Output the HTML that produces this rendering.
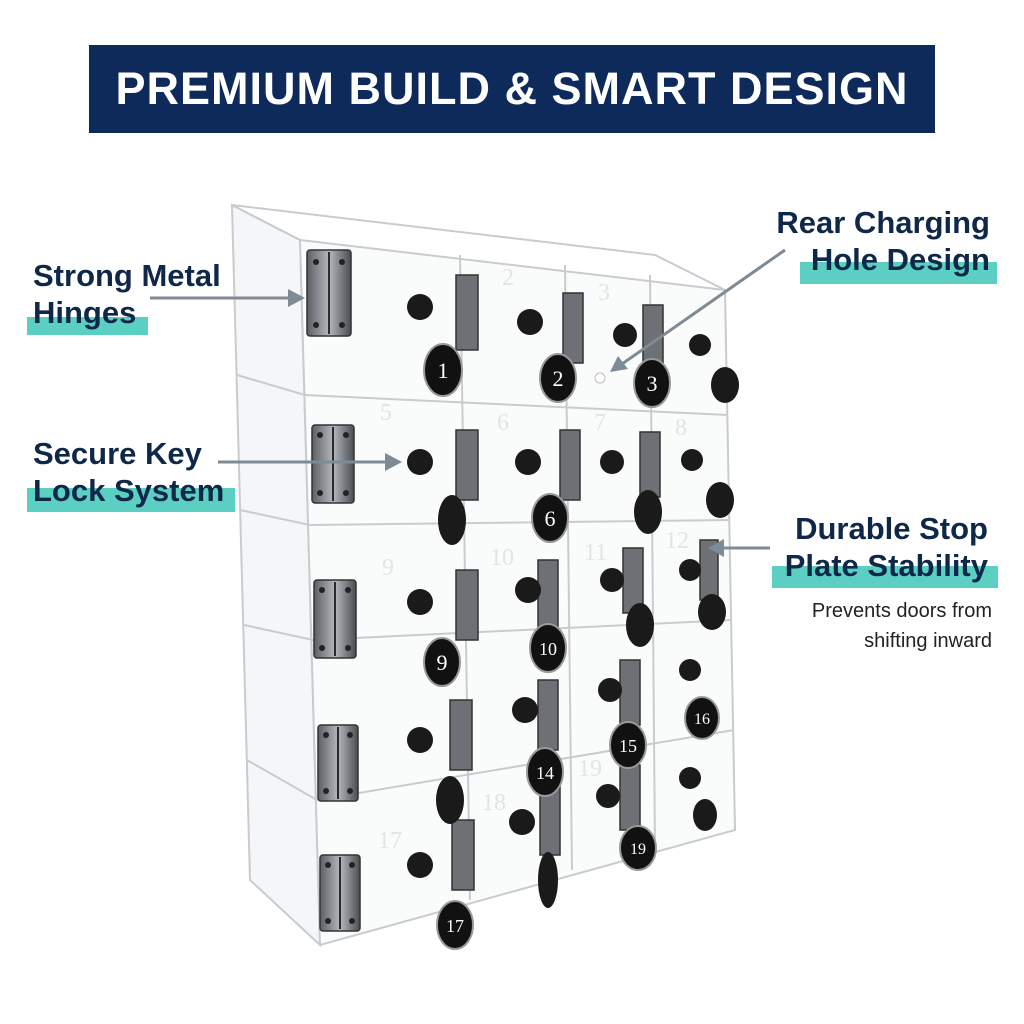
<!DOCTYPE html>
<html><head><meta charset="utf-8"><style>
body{margin:0;width:1024px;height:1024px;background:#fff;position:relative;overflow:hidden;font-family:"Liberation Sans",sans-serif;}
.banner{position:absolute;left:89px;top:45px;width:846px;height:88px;background:#0d2a5a;color:#fff;font-weight:bold;font-size:45px;text-align:center;line-height:88px;letter-spacing:1px}
.lbl{position:absolute;font-weight:bold;font-size:31px;color:#0f2748;line-height:37px;z-index:2}
.bar{position:absolute;background:#5ccfc3;z-index:1}
.sub{position:absolute;font-size:20px;color:#222;line-height:30px;text-align:right}
svg{position:absolute;left:0;top:0}
</style></head><body>
<div class="banner">PREMIUM BUILD &amp; SMART DESIGN</div>
<svg width="1024" height="1024">
 <defs><linearGradient id="m" x1="0" x2="1"><stop offset="0" stop-color="#5c6064"/><stop offset="0.5" stop-color="#b4b8bc"/><stop offset="1" stop-color="#4a4e52"/></linearGradient></defs>
 <g stroke="#c8ccd0" stroke-width="2" fill="none">
  <polygon points="232,205 300,240 320,945 250,880" fill="#f4f6f7"/>
  <polygon points="300,240 725,290 735,830 320,945" fill="#fafbfb"/>
  <polyline points="232,205 655,255 725,290"/>
  <line x1="300" y1="240" x2="232" y2="205"/>
  <line x1="305" y1="395" x2="728" y2="415"/>
  <line x1="310" y1="525" x2="730" y2="520"/>
  <line x1="313" y1="640" x2="732" y2="620"/>
  <line x1="317" y1="800" x2="734" y2="730"/>
  <line x1="237" y1="375" x2="305" y2="395"/>
  <line x1="240" y1="510" x2="310" y2="525"/>
  <line x1="244" y1="625" x2="313" y2="640"/>
  <line x1="247" y1="760" x2="317" y2="800"/>
  <line x1="460" y1="255" x2="470" y2="900"/>
  <line x1="565" y1="265" x2="572" y2="870"/>
  <line x1="650" y1="275" x2="655" y2="850"/>
 </g>
 <g fill="#e2e4e6" font-size="24" font-family="Liberation Serif,serif">
  <text x="502" y="285">2</text><text x="598" y="300">3</text><text x="380" y="420">5</text><text x="497" y="430">6</text><text x="594" y="430">7</text><text x="675" y="435">8</text><text x="382" y="575">9</text><text x="490" y="565">10</text><text x="584" y="560">11</text><text x="665" y="548">12</text><text x="378" y="848">17</text><text x="482" y="810">18</text><text x="578" y="776">19</text>
 </g>
 <g fill="url(#m)" stroke="#333" stroke-width="1.5">
  <rect x="307" y="250" width="44" height="86" rx="3"/><rect x="312" y="425" width="42" height="78" rx="3"/><rect x="314" y="580" width="42" height="78" rx="3"/><rect x="318" y="725" width="40" height="76" rx="3"/><rect x="320" y="855" width="40" height="76" rx="3"/>
 </g>
 <g stroke="#2a2a2a" stroke-width="2">
  <line x1="329" y1="252" x2="329" y2="334"/><line x1="333" y1="427" x2="333" y2="501"/><line x1="335" y1="582" x2="335" y2="656"/><line x1="338" y1="727" x2="338" y2="799"/><line x1="340" y1="857" x2="340" y2="929"/>
 </g>
 <g fill="#222">
  <circle cx="316" cy="262" r="3"/><circle cx="342" cy="262" r="3"/><circle cx="316" cy="325" r="3"/><circle cx="342" cy="325" r="3"/>
  <circle cx="320" cy="435" r="3"/><circle cx="346" cy="435" r="3"/><circle cx="320" cy="493" r="3"/><circle cx="346" cy="493" r="3"/>
  <circle cx="322" cy="590" r="3"/><circle cx="348" cy="590" r="3"/><circle cx="322" cy="648" r="3"/><circle cx="348" cy="648" r="3"/>
  <circle cx="326" cy="735" r="3"/><circle cx="350" cy="735" r="3"/><circle cx="326" cy="791" r="3"/><circle cx="350" cy="791" r="3"/>
  <circle cx="328" cy="865" r="3"/><circle cx="352" cy="865" r="3"/><circle cx="328" cy="921" r="3"/><circle cx="352" cy="921" r="3"/>
 </g>
 <g fill="#6d7074" stroke="#333" stroke-width="1.5">
  <rect x="456" y="275" width="22" height="75"/><rect x="563" y="293" width="20" height="70"/><rect x="643" y="305" width="20" height="65"/>
  <rect x="456" y="430" width="22" height="70"/><rect x="560" y="430" width="20" height="70"/><rect x="640" y="432" width="20" height="65"/>
  <rect x="456" y="570" width="22" height="70"/><rect x="538" y="560" width="20" height="70"/><rect x="623" y="548" width="20" height="65"/><rect x="700" y="540" width="18" height="60"/>
  <rect x="450" y="700" width="22" height="70"/><rect x="538" y="680" width="20" height="70"/><rect x="620" y="660" width="20" height="65"/>
  <rect x="452" y="820" width="22" height="70"/><rect x="540" y="785" width="20" height="70"/><rect x="620" y="765" width="20" height="65"/>
 </g>
 <g fill="#1a1a1a">
  <circle cx="420" cy="307" r="13"/><circle cx="530" cy="322" r="13"/><circle cx="625" cy="335" r="12"/><circle cx="700" cy="345" r="11"/>
  <circle cx="420" cy="462" r="13"/><circle cx="528" cy="462" r="13"/><circle cx="612" cy="462" r="12"/><circle cx="692" cy="460" r="11"/>
  <circle cx="420" cy="602" r="13"/><circle cx="528" cy="590" r="13"/><circle cx="612" cy="580" r="12"/><circle cx="690" cy="570" r="11"/>
  <circle cx="420" cy="740" r="13"/><circle cx="525" cy="710" r="13"/><circle cx="610" cy="690" r="12"/><circle cx="690" cy="670" r="11"/>
  <circle cx="420" cy="865" r="13"/><circle cx="522" cy="822" r="13"/><circle cx="608" cy="796" r="12"/><circle cx="690" cy="778" r="11"/>
  <ellipse cx="452" cy="520" rx="14" ry="25"/><ellipse cx="648" cy="512" rx="14" ry="22"/><ellipse cx="720" cy="500" rx="14" ry="18"/>
  <ellipse cx="640" cy="625" rx="14" ry="22"/><ellipse cx="712" cy="612" rx="14" ry="18"/>
  <ellipse cx="450" cy="800" rx="14" ry="24"/><ellipse cx="548" cy="880" rx="10" ry="28"/><ellipse cx="705" cy="815" rx="12" ry="16"/><ellipse cx="725" cy="385" rx="14" ry="18"/>
 </g>
 <g fill="#111" stroke="#999" stroke-width="2">
  <ellipse cx="443" cy="370" rx="19" ry="26"/><ellipse cx="558" cy="378" rx="18" ry="24"/><ellipse cx="652" cy="383" rx="18" ry="24"/>
  <ellipse cx="550" cy="518" rx="18" ry="24"/><ellipse cx="442" cy="662" rx="18" ry="24"/><ellipse cx="548" cy="648" rx="18" ry="24"/>
  <ellipse cx="545" cy="772" rx="18" ry="24"/><ellipse cx="628" cy="745" rx="18" ry="23"/><ellipse cx="702" cy="718" rx="17" ry="21"/>
  <ellipse cx="638" cy="848" rx="18" ry="22"/><ellipse cx="455" cy="925" rx="18" ry="24"/>
 </g>
 <g fill="#fff" font-size="22" font-family="Liberation Serif,serif" text-anchor="middle">
  <text x="443" y="378">1</text><text x="558" y="386">2</text><text x="652" y="391">3</text><text x="550" y="526">6</text><text x="442" y="670">9</text><text x="548" y="655" font-size="18">10</text><text x="545" y="779" font-size="18">14</text><text x="628" y="752" font-size="18">15</text><text x="702" y="724" font-size="16">16</text><text x="638" y="854" font-size="16">19</text><text x="455" y="932" font-size="18">17</text>
 </g>
 <circle cx="600" cy="378" r="5" fill="#fff" stroke="#bbb"/>
 <g stroke="#7e8a96" stroke-width="3" fill="#7e8a96">
  <line x1="150" y1="298" x2="292" y2="298"/><polygon points="305,298 288,289 288,307" stroke="none"/>
  <line x1="218" y1="462" x2="388" y2="462"/><polygon points="402,462 385,453 385,471" stroke="none"/>
  <line x1="785" y1="250" x2="622" y2="364"/><polygon points="610,372 618,356 628,369" stroke="none"/>
  <line x1="770" y1="548" x2="722" y2="548"/><polygon points="708,548 724,539 724,557" stroke="none"/>
 </g>
</svg>
<div class="bar" style="left:27px;top:317px;width:121px;height:18px"></div>
<div class="lbl" style="left:33px;top:257px">Strong Metal<br>Hinges</div>
<div class="bar" style="left:27px;top:488px;width:208px;height:24px"></div>
<div class="lbl" style="left:33px;top:435px">Secure Key<br>Lock System</div>
<div class="bar" style="left:800px;top:262px;width:197px;height:22px"></div>
<div class="lbl" style="right:34px;top:204px;text-align:right">Rear Charging<br>Hole Design</div>
<div class="bar" style="left:772px;top:566px;width:226px;height:22px"></div>
<div class="lbl" style="right:36px;top:510px;text-align:right">Durable Stop<br>Plate Stability</div>
<div class="sub" style="right:32px;top:596px">Prevents doors from<br>shifting inward</div>
</body></html>
